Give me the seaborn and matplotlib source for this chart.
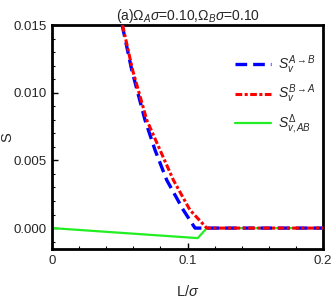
"""Entanglement curves S vs L/sigma, panel (a)."""
import matplotlib
matplotlib.use("Agg")
import matplotlib.pyplot as plt
from matplotlib.ticker import MultipleLocator
import pandas as pd
import seaborn as sns

# values
L_ab = [0.0517, 0.0588, 0.0686, 0.0760, 0.0846, 0.0969, 0.1055, 0.2]
S_ab = [0.015, 0.01168, 0.00798, 0.00576, 0.00355, 0.00133, 0.0, 0.0]

L_ba = [0.0520, 0.0594, 0.0699, 0.0797, 0.0895, 0.1018, 0.1142, 0.2]
S_ba = [0.015, 0.01168, 0.00798, 0.00576, 0.00355, 0.00133, 0.0, 0.0]

L_delta = [0.0, 0.1075, 0.1142, 0.2]
S_delta = [0.0, -0.00074, 0.0, 0.0]

labels = [r"$S_v^{A\rightarrow B}$", r"$S_v^{B\rightarrow A}$", r"$S_{v,AB}^{\Delta}$"]

sns.set_style("ticks")
plt.rcParams["font.family"] = ["Liberation Sans", "DejaVu Sans"]
plt.rcParams["mathtext.fontset"] = "custom"
plt.rcParams["mathtext.rm"] = "Liberation Sans"
plt.rcParams["mathtext.it"] = "Liberation Sans:italic"

fig, ax = plt.subplots(figsize=(3.32, 2.99), dpi=100)
fig.subplots_adjust(left=0.157, right=0.973, top=0.916, bottom=0.167)

sns.lineplot(data=pd.DataFrame({"L": L_delta, "S": S_delta}), x="L", y="S", ax=ax,
             color="#22ee22", lw=1.6, label=labels[2], zorder=2)
sns.lineplot(data=pd.DataFrame({"L": L_ab, "S": S_ab}), x="L", y="S", ax=ax,
             color="#0000ff", lw=2.4, dashes=(3.5, 1.8), label=labels[0], zorder=3)
sns.lineplot(data=pd.DataFrame({"L": L_ba, "S": S_ba}), x="L", y="S", ax=ax,
             color="#ff0000", lw=2.2, dashes=(2.2, 0.8, 1.0, 0.8), label=labels[1], zorder=4)

ax.set_xlim(0, 0.2)
ax.set_ylim(-0.00155, 0.015)
ax.set_xticks([0, 0.1, 0.2])
ax.set_xticklabels(["0", "0.1", "0.2"])
ax.set_yticks([0.0, 0.005, 0.010, 0.015])
ax.set_yticklabels(["0.000", "0.005", "0.010", "0.015"])
ax.xaxis.set_minor_locator(MultipleLocator(0.02))
ax.yaxis.set_minor_locator(MultipleLocator(0.001))
ax.tick_params(which="both", direction="in", labelsize=9.5, color="black", pad=4)
ax.tick_params(which="major", length=4, width=1)
ax.tick_params(which="minor", length=2, width=0.8)
for sp in ax.spines.values():
    sp.set_linewidth(2)
    sp.set_color("black")

ax.set_xlabel(r"L/$\sigma$", fontsize=10.5)
ax.xaxis.set_label_coords(0.5, -0.155)
ax.set_ylabel("S", fontsize=10.5)
ax.yaxis.set_label_coords(-0.14, 0.5)
ax.set_title(r"(a)$\Omega_A\sigma$=0.10,$\Omega_B\sigma$=0.10", fontsize=10, pad=4)

h, l = ax.get_legend_handles_labels()
order = [1, 2, 0]
ax.legend([h[i] for i in order], [l[i] for i in order], loc="upper right",
          bbox_to_anchor=(1.02, 0.93), frameon=False, fontsize=10,
          handlelength=2.6, labelspacing=0.5, handletextpad=0.5)

fig.savefig("out.png", dpi=100)
